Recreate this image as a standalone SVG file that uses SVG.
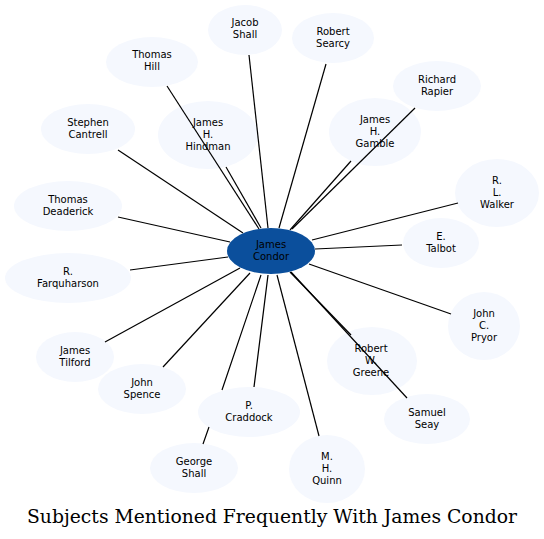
<svg xmlns="http://www.w3.org/2000/svg" width="544" height="539" viewBox="0 0 544 539">
<style>
.n{fill:#f5f8fe;stroke:none}
.c{fill:#0b4f9c;stroke:none}
text{font-family:"DejaVu Sans",sans-serif;font-size:10px;fill:#000;text-anchor:middle}
.e{stroke:#000;stroke-width:1.2;fill:none}
.t{font-family:"DejaVu Serif",serif;font-size:18.8px}
</style>
<rect width="544" height="539" fill="#fff"/>
<g id="nodes">
<g id="n-jacob-shall"><ellipse class="n" cx="245" cy="30" rx="37" ry="25"/><text x="245" y="26">Jacob</text><text x="245" y="38">Shall</text></g>
<g id="n-robert-searcy"><ellipse class="n" cx="333" cy="38" rx="41" ry="25"/><text x="333" y="35">Robert</text><text x="333" y="47">Searcy</text></g>
<g id="n-thomas-hill"><ellipse class="n" cx="152" cy="62" rx="46" ry="25"/><text x="152" y="58">Thomas</text><text x="152" y="70">Hill</text></g>
<g id="n-richard-rapier"><ellipse class="n" cx="437" cy="86" rx="44" ry="25"/><text x="437" y="83">Richard</text><text x="437" y="95">Rapier</text></g>
<g id="n-stephen-cantrell"><ellipse class="n" cx="88" cy="129" rx="47" ry="25"/><text x="88" y="126">Stephen</text><text x="88" y="138">Cantrell</text></g>
<g id="n-james-h-gamble"><ellipse class="n" cx="375" cy="132" rx="46" ry="34"/><text x="375" y="123">James</text><text x="375" y="135">H.</text><text x="375" y="147">Gamble</text></g>
<g id="n-thomas-deaderick"><ellipse class="n" cx="68" cy="206" rx="54" ry="25"/><text x="68" y="203">Thomas</text><text x="68" y="215">Deaderick</text></g>
<g id="n-r-l-walker"><ellipse class="n" cx="497" cy="193" rx="42" ry="34"/><text x="497" y="184">R.</text><text x="497" y="196">L.</text><text x="497" y="208">Walker</text></g>
<g id="n-e-talbot"><ellipse class="n" cx="441" cy="243" rx="38" ry="25"/><text x="441" y="240">E.</text><text x="441" y="252">Talbot</text></g>
<g id="n-r-farquharson"><ellipse class="n" cx="68" cy="278" rx="63" ry="25"/><text x="68" y="275">R.</text><text x="68" y="287">Farquharson</text></g>
<g id="n-john-c-pryor"><ellipse class="n" cx="484" cy="326" rx="36" ry="34"/><text x="484" y="317">John</text><text x="484" y="329">C.</text><text x="484" y="341">Pryor</text></g>
<g id="n-james-tilford"><ellipse class="n" cx="75" cy="357" rx="39" ry="25"/><text x="75" y="354">James</text><text x="75" y="366">Tilford</text></g>
<g id="n-robert-w-greene"><ellipse class="n" cx="372" cy="361" rx="45" ry="34"/><text x="371" y="352">Robert</text><text x="371" y="364">W.</text><text x="371" y="376">Greene</text></g>
<g id="n-john-spence"><ellipse class="n" cx="142" cy="389" rx="44" ry="25"/><text x="142" y="386">John</text><text x="142" y="398">Spence</text></g>
<g id="n-samuel-seay"><ellipse class="n" cx="427" cy="419" rx="43" ry="25"/><text x="427" y="416">Samuel</text><text x="427" y="428">Seay</text></g>
<g id="n-george-shall"><ellipse class="n" cx="194" cy="468" rx="44" ry="25"/><text x="194" y="465">George</text><text x="194" y="477">Shall</text></g>
<g id="n-m-h-quinn"><ellipse class="n" cx="327" cy="469" rx="38" ry="34"/><text x="327" y="460">M.</text><text x="327" y="472">H.</text><text x="327" y="484">Quinn</text></g>
<g id="n-james-h-hindman"><ellipse class="n" cx="208" cy="135" rx="50" ry="34"/><text x="208" y="126">James</text><text x="208" y="138">H.</text><text x="208" y="150">Hindman</text></g>
<g id="n-p-craddock"><ellipse class="n" cx="249" cy="412" rx="51" ry="25"/><text x="249" y="409">P.</text><text x="249" y="421">Craddock</text></g>
</g>
<g id="connectors">
<path class="e" d="M268,228 L249,55"/>
<path class="e" d="M279,228 L326,64"/>
<path class="e" d="M259,229 L167,86"/>
<path class="e" d="M292,229 L415,108"/>
<path class="e" d="M261,228 L226,167"/>
<path class="e" d="M290,230 L351,161"/>
<path class="e" d="M243,233 L118,150"/>
<path class="e" d="M230,242 L118,217"/>
<path class="e" d="M312,240 L458,203"/>
<path class="e" d="M315,249 L402,245"/>
<path class="e" d="M228,257 L130,270"/>
<path class="e" d="M309,264 L451,314"/>
<path class="e" d="M240,268 L105,342"/>
<path class="e" d="M290,272 L351,335"/>
<path class="e" d="M291,272 L407,398"/>
<path class="e" d="M250,273 L163,367"/>
<path class="e" d="M268,275 L254,387"/>
<path class="e" d="M261,275 L222,390 M209,427 L203,444"/>
<path class="e" d="M277,275 L319,436"/>
</g>
<g id="ccenter"><ellipse class="c" cx="271" cy="251" rx="44" ry="23"/><text x="271" y="248">James</text><text x="271" y="260">Condor</text></g>
<text class="t" x="272" y="523" textLength="490" lengthAdjust="spacingAndGlyphs">Subjects Mentioned Frequently With James Condor</text>
</svg>
